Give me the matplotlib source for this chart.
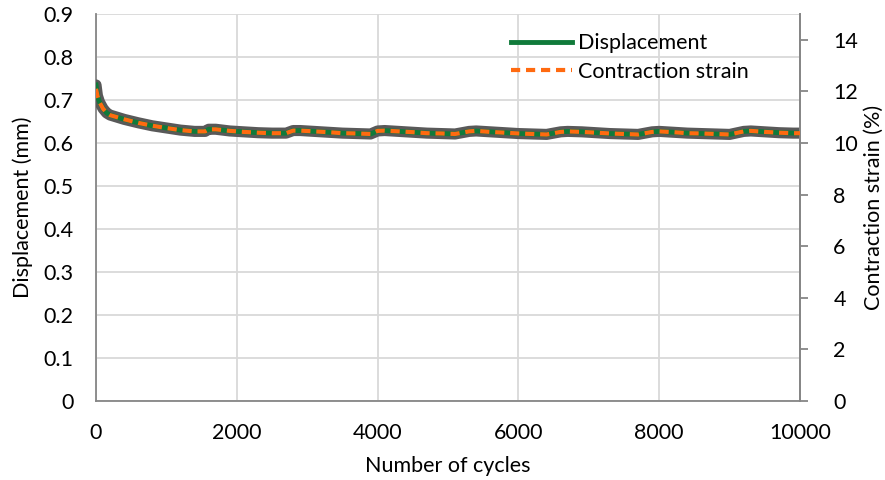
import matplotlib.pyplot as plt

plt.rcParams['font.family'] = ['Lato', 'DejaVu Sans']

# cycle count and measured response
cycles = [0, 20, 50, 100, 150, 200, 300, 400, 500, 600, 800, 1000, 1200, 1400,
          1550, 1600, 1700, 1900, 2100, 2300, 2500, 2700, 2800, 2900, 3100, 3300,
          3500, 3700, 3900, 4000, 4100, 4300, 4500, 4700, 4900, 5100, 5300, 5400,
          5600, 5800, 6000, 6200, 6400, 6600, 6700, 6900, 7100, 7300, 7500, 7700,
          7900, 8000, 8200, 8400, 8600, 8800, 9000, 9200, 9300, 9500, 9700, 9900,
          10000]

displacement = [0.735, 0.71, 0.695, 0.68, 0.67, 0.665, 0.66, 0.655, 0.651, 0.647,
                0.64, 0.635, 0.63, 0.627, 0.627, 0.632, 0.632, 0.628, 0.626, 0.624,
                0.623, 0.623, 0.629, 0.629, 0.627, 0.625, 0.623, 0.622, 0.621, 0.628,
                0.629, 0.627, 0.625, 0.623, 0.622, 0.621, 0.627, 0.628, 0.626, 0.624,
                0.622, 0.621, 0.620, 0.626, 0.627, 0.626, 0.624, 0.622, 0.621, 0.620,
                0.626, 0.627, 0.625, 0.623, 0.622, 0.621, 0.620, 0.627, 0.628, 0.626,
                0.624, 0.623, 0.623]

strain = [12.10, 11.83, 11.58, 11.33, 11.17, 11.08, 11.00, 10.92, 10.85, 10.78,
          10.67, 10.58, 10.50, 10.45, 10.45, 10.53, 10.53, 10.47, 10.43, 10.40,
          10.38, 10.38, 10.48, 10.48, 10.45, 10.42, 10.38, 10.37, 10.35, 10.47,
          10.48, 10.45, 10.42, 10.38, 10.37, 10.35, 10.45, 10.47, 10.43, 10.40,
          10.37, 10.35, 10.33, 10.43, 10.45, 10.43, 10.40, 10.37, 10.35, 10.33,
          10.43, 10.45, 10.42, 10.38, 10.37, 10.35, 10.33, 10.45, 10.47, 10.43,
          10.40, 10.38, 10.38]

x_ticks = [0, 2000, 4000, 6000, 8000, 10000]
y_ticks = [0, 0.1, 0.2, 0.3, 0.4, 0.5, 0.6, 0.7, 0.8, 0.9]
y2_ticks = [0, 2, 4, 6, 8, 10, 12, 14]

grid_c = '#d9d9d9'
axis_c = '#868686'
fs = 15.5

fig = plt.figure(figsize=(8.85, 4.8), dpi=100)
ax = fig.add_axes([0.1085, 0.1646, 0.7955, 0.8062])

# gray halo, then green line on top
ax.plot(cycles, displacement, color='#595959', lw=8, solid_capstyle='round', zorder=3)
l1, = ax.plot(cycles, displacement, color='#107a3a', lw=3.5, zorder=4,
              label='Displacement')

ax.set_xlim(0, 10000)
ax.set_ylim(0, 0.9)
ax.set_xticks(x_ticks)
ax.set_yticks(y_ticks)
ax.set_yticklabels(['0'] + [f'{v:.1f}' for v in y_ticks[1:]])
ax.grid(True, color=grid_c, lw=1.3)
ax.set_axisbelow(True)
ax.tick_params(length=0, labelsize=fs)
ax.tick_params(axis='x', pad=16)
ax.tick_params(axis='y', pad=16)
ax.spines['top'].set_visible(False)
for s in ['left', 'bottom', 'right']:
    ax.spines[s].set_color(axis_c)
    ax.spines[s].set_linewidth(1.3)
ax.set_xlabel('Number of cycles', fontsize=fs, labelpad=9)
ax.set_ylabel('Displacement (mm)', fontsize=fs, labelpad=8)

ax2 = ax.twinx()
l2, = ax2.plot(cycles, strain, color='#ff6a10', lw=3, ls=(0, (2.2, 1.4)),
               zorder=5, label='Contraction strain')
ax2.set_ylim(0, 15)
ax2.set_yticks(y2_ticks)
ax2.tick_params(axis='y', direction='out', length=6, width=1.3, color=axis_c,
                labelsize=fs, pad=18)
for s in ['top', 'left', 'bottom']:
    ax2.spines[s].set_visible(False)
ax2.spines['right'].set_color(axis_c)
ax2.spines['right'].set_linewidth(1.3)
ax2.set_ylabel('Contraction strain (%)', fontsize=fs, labelpad=4)

ax2.legend([l1, l2], ['Displacement', 'Contraction strain'], loc='upper right',
           bbox_to_anchor=(0.955, 1.0), frameon=False, fontsize=fs,
           handlelength=2.8, handletextpad=0.3, labelspacing=0.4)

fig.savefig('out.png', dpi=100)
